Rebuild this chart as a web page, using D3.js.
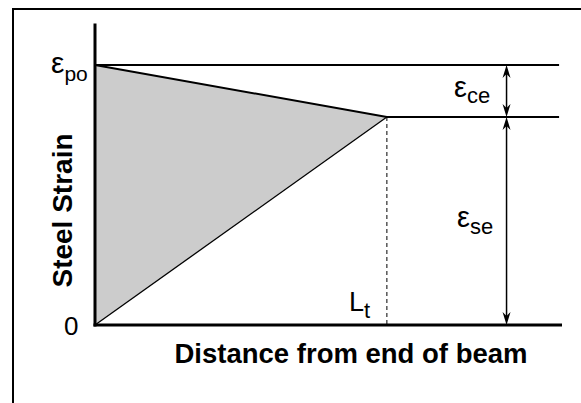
<!DOCTYPE html>
<html>
<head>
<meta charset="utf-8">
<script src="https://cdn.jsdelivr.net/npm/d3@7"></script>
<style>
  html, body { margin: 0; padding: 0; background: #fff; }
  svg { display: block; }
  text { font-family: "Liberation Sans", Arial, sans-serif; fill: #000; }
</style>
</head>
<body>
<svg id="chart" width="581" height="403"></svg>
<script>
// Strain levels (normalised to the initial prestrain)
const strainLevels = { po: 1.0, se: 0.8, zero: 0 };
// Distance values (normalised to transfer length L_t)
const transferLength = 1.0;
const distanceMax = 1.6;
const lineEnd = 1.59;
const arrowAt = 1.41;
const strainAxisTop = 1.16;

// Profile of steel strain along the beam
const effectiveProfile = [
  { d: 0, s: strainLevels.po },
  { d: transferLength, s: strainLevels.se },
  { d: lineEnd, s: strainLevels.se }
];
const transferProfile = [
  { d: 0, s: 0 },
  { d: transferLength, s: strainLevels.se }
];
const shadedRegion = [
  { d: 0, s: strainLevels.po },
  { d: transferLength, s: strainLevels.se },
  { d: 0, s: 0 }
];

const svg = d3.select("#chart");

const x = d3.scaleLinear().domain([0, distanceMax]).range([95, 562]);
const y = d3.scaleLinear().domain([0, 1]).range([325, 65]);

// Outer frame
svg.append("rect")
  .attr("x", 13).attr("y", 9)
  .attr("width", 600).attr("height", 420)
  .attr("fill", "none").attr("stroke", "#000").attr("stroke-width", 2);

const line = d3.line().x(p => x(p.d)).y(p => y(p.s));

// Shaded area between initial strain and transfer line
svg.append("path")
  .datum(shadedRegion)
  .attr("d", d3.line().x(p => x(p.d)).y(p => y(p.s)).curve(d3.curveLinearClosed))
  .attr("fill", "#cccccc").attr("stroke", "none");

// Initial prestrain reference line
svg.append("line")
  .attr("x1", x(0)).attr("x2", x(lineEnd))
  .attr("y1", y(strainLevels.po)).attr("y2", y(strainLevels.po))
  .attr("stroke", "#000").attr("stroke-width", 2);

// Effective strain profile
svg.append("path")
  .datum(effectiveProfile)
  .attr("d", line)
  .attr("fill", "none").attr("stroke", "#000").attr("stroke-width", 2);

// Transfer zone strain build-up
svg.append("path")
  .datum(transferProfile)
  .attr("d", line)
  .attr("fill", "none").attr("stroke", "#000").attr("stroke-width", 1.3);

// Dashed marker at L_t
svg.append("line")
  .attr("x1", x(transferLength)).attr("x2", x(transferLength))
  .attr("y1", y(strainLevels.se)).attr("y2", y(0))
  .attr("stroke", "#000").attr("stroke-width", 1)
  .attr("stroke-dasharray", "4,3");

// Axes
svg.append("line")
  .attr("x1", x(0)).attr("x2", x(0))
  .attr("y1", y(strainAxisTop)).attr("y2", y(0) + 1.5)
  .attr("stroke", "#000").attr("stroke-width", 3);
svg.append("line")
  .attr("x1", x(0) - 1.5).attr("x2", x(distanceMax))
  .attr("y1", y(0)).attr("y2", y(0))
  .attr("stroke", "#000").attr("stroke-width", 3);

// Dimension arrows
function arrowHead(px, py, dir) {
  // dir: -1 points up, +1 points down
  const L = 13, W = 4, B = 9;
  const p = `M${px},${py} L${px - W},${py - dir * L} L${px},${py - dir * B} L${px + W},${py - dir * L} Z`;
  svg.append("path").attr("d", p).attr("fill", "#000");
}
const ax = x(arrowAt);
[[strainLevels.po, strainLevels.se], [strainLevels.se, 0]].forEach(([top, bot]) => {
  svg.append("line")
    .attr("x1", ax).attr("x2", ax)
    .attr("y1", y(top) + 8).attr("y2", y(bot) - 8)
    .attr("stroke", "#000").attr("stroke-width", 1.5);
  arrowHead(ax, y(top), -1);
  arrowHead(ax, y(bot), 1);
});

// Labels with subscripts
function subLabel(xp, yp, main, sub, size, subSize, dx, dy) {
  const t = svg.append("text").attr("x", xp).attr("y", yp)
    .style("font-size", size + "px");
  t.append("tspan").text(main);
  t.append("tspan").attr("dx", dx).attr("dy", dy)
    .style("font-size", subSize + "px").text(sub);
}
subLabel(51, 73, "ε", "po", 30, 21, 0, 8);
subLabel(454, 97, "ε", "ce", 29, 22, 0, 6);
subLabel(457, 227, "ε", "se", 29, 22, 0, 7);
subLabel(349, 311, "L", "t", 27, 22, 0, 7);

svg.append("text")
  .attr("x", 64).attr("y", 335)
  .style("font-size", "26px")
  .text("0");

// Axis titles
svg.append("text")
  .attr("transform", "translate(72,210.5) rotate(-90)")
  .attr("text-anchor", "middle")
  .style("font-size", "28px").style("font-weight", "bold")
  .text("Steel Strain");

svg.append("text")
  .attr("x", 351).attr("y", 363)
  .attr("text-anchor", "middle")
  .style("font-size", "27.5px").style("font-weight", "bold")
  .text("Distance from end of beam");
</script>
</body>
</html>
